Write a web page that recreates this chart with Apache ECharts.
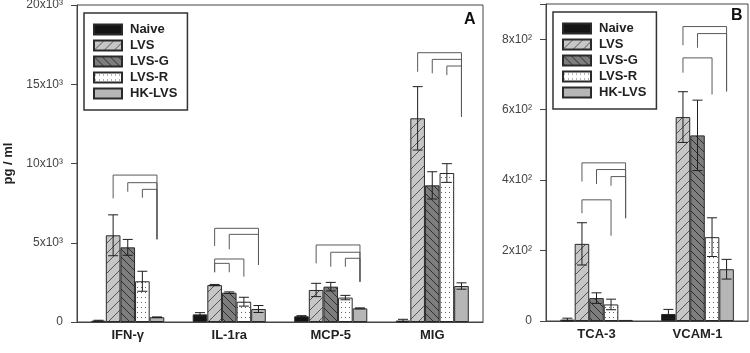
<!DOCTYPE html>
<html>
<head>
<meta charset="utf-8">
<script src="https://cdn.jsdelivr.net/npm/echarts@6/dist/echarts.min.js"></script>
<style>
html, body { margin: 0; padding: 0; background: #fff; }
#chart { width: 750px; height: 353px; }
</style>
</head>
<body>
<div id="chart"></div>
<script>
// groups (series)
var groups = ["Naive", "LVS", "LVS-G", "LVS-R", "HK-LVS"];

// panel A: pg/ml
var catsA = ["IFN-γ", "IL-1ra", "MCP-5", "MIG"];
var naiveA = [80, 480, 360, 90];
var lvsA = [5470, 2330, 2020, 12850];
var lvsGA = [4710, 1850, 2230, 8620];
var lvsRA = [2570, 1280, 1540, 9400];
var hkA = [300, 820, 860, 2270];
var naiveErrA = [30, 110, 40, 80];
var lvsErrA = [1290, 40, 420, 2000];
var lvsGErrA = [500, 50, 270, 860];
var lvsRErrA = [630, 280, 140, 590];
var hkErrA = [20, 220, 30, 200];

// panel B: pg/ml
var catsB = ["TCA-3", "VCAM-1"];
var naiveB = [4, 20];
var lvsB = [219, 579];
var lvsGB = [65, 527];
var lvsRB = [47, 238];
var hkB = [3, 147];
var naiveErrB = [4, 13];
var lvsErrB = [60, 72];
var lvsGErrB = [15, 100];
var lvsRErrB = [15, 55];
var hkErrB = [0, 28];

// significance brackets: [category, from bar, to bar, top, left leg end, right leg end]
var bracketsA = [
  [0, 1, 4, 9270, 7800, 5220],
  [0, 2, 4, 8790, 8220, 5220],
  [0, 3, 4, 8370, 7840, 5220],
  [1, 1, 4, 5910, 4800, 3600],
  [1, 2, 4, 5530, 4590, 3600],
  [1, 1, 3, 3975, 3140, 2860],
  [1, 1, 2, 3700, 3140, 3140],
  [2, 1, 4, 4860, 3700, 2540],
  [2, 2, 4, 4400, 3490, 2540],
  [2, 3, 4, 4020, 3490, 2540],
  [3, 1, 4, 16990, 15790, 12950],
  [3, 2, 4, 16570, 15690, 12950],
  [3, 3, 4, 16150, 15580, 12950]
];
var bracketsB = [
  [0, 1, 4, 449, 396, 292],
  [0, 2, 4, 430, 389, 292],
  [0, 3, 4, 410, 384, 292],
  [0, 1, 3, 344, 306, 242],
  [1, 1, 4, 836, 783, 652],
  [1, 2, 4, 816, 776, 652],
  [1, 1, 3, 747, 705, 643]
];

var FONT = '"Liberation Sans", Arial, sans-serif';
var GAP = 0.28;

function pattern(bg, ink, kind, w, h) {
  var c = document.createElement("canvas");
  c.width = w; c.height = h;
  var g = c.getContext("2d");
  g.fillStyle = bg;
  g.fillRect(0, 0, w, h);
  g.strokeStyle = ink;
  g.fillStyle = ink;
  g.lineWidth = 1;
  g.beginPath();
  if (kind === "/") {
    g.moveTo(-1, h + 1); g.lineTo(w + 1, -1);
    g.moveTo(-1, 1); g.lineTo(1, -1);
    g.moveTo(w - 1, h + 1); g.lineTo(w + 1, h - 1);
    g.stroke();
  } else if (kind === "\\") {
    g.moveTo(-1, -1); g.lineTo(w + 1, h + 1);
    g.moveTo(w - 1, -1); g.lineTo(w + 1, 1);
    g.moveTo(-1, h - 1); g.lineTo(1, h + 1);
    g.stroke();
  } else if (kind === ".") {
    g.fillRect(1, 2, 1, 1);
  }
  return { image: c, repeat: "repeat" };
}

var fills = [
  "#141414",
  pattern("#c6c6c6", "#555", "/", 10, 10),
  pattern("#7e7e7e", "#2e2e2e", "\\", 8, 8),
  pattern("#ffffff", "#666", ".", 4, 5),
  "#b6b6b6"
];

var valsA = [naiveA, lvsA, lvsGA, lvsRA, hkA];
var errsA = [naiveErrA, lvsErrA, lvsGErrA, lvsRErrA, hkErrA];
var valsB = [naiveB, lvsB, lvsGB, lvsRB, hkB];
var errsB = [naiveErrB, lvsErrB, lvsGErrB, lvsRErrB, hkErrB];

function barX(api, c, g) {
  var band = api.size([1, 0])[0];
  var bw = band * (1 - GAP) / 5;
  return api.coord([c, 0])[0] + (g - 2) * bw;
}

function errItem(params, api) {
  var c = api.value(0), g = api.value(1), v = api.value(2), e = api.value(3);
  if (!e) return null;
  var x = barX(api, c, g);
  var yT = api.coord([c, v + e])[1];
  var yB = api.coord([c, Math.max(v - e, 0)])[1];
  var hw = 5;
  var st = { stroke: "#1e1e1e", lineWidth: 1 };
  return {
    type: "group",
    children: [
      { type: "line", shape: { x1: x, y1: yT, x2: x, y2: yB }, style: st },
      { type: "line", shape: { x1: x - hw, y1: yT, x2: x + hw, y2: yT }, style: st },
      { type: "line", shape: { x1: x - hw, y1: yB, x2: x + hw, y2: yB }, style: st }
    ]
  };
}

function bracketItem(params, api) {
  var c = api.value(0);
  var x1 = barX(api, c, api.value(1));
  var x2 = barX(api, c, api.value(2));
  var yTop = api.coord([c, api.value(3)])[1];
  var yL = api.coord([c, api.value(4)])[1];
  var yR = api.coord([c, api.value(5)])[1];
  return {
    type: "polyline",
    shape: { points: [[x1, yL], [x1, yTop], [x2, yTop], [x2, yR]] },
    style: { stroke: "#5a5a5a", lineWidth: 1, fill: null }
  };
}

function errData(vals, errs) {
  var out = [];
  for (var g = 0; g < vals.length; g++) {
    for (var i = 0; i < vals[g].length; i++) {
      out.push([i, g, vals[g][i], errs[g][i]]);
    }
  }
  return out;
}

var series = [];
[[valsA, 0], [valsB, 1]].forEach(function (p) {
  groups.forEach(function (name, g) {
    series.push({
      name: name,
      type: "bar",
      xAxisIndex: p[1],
      yAxisIndex: p[1],
      data: p[0][g],
      barGap: "0%",
      barCategoryGap: GAP * 100 + "%",
      itemStyle: { color: fills[g], borderColor: "#2a2a2a", borderWidth: 1 },
      emphasis: { disabled: true }
    });
  });
});
series.push({
  type: "custom", xAxisIndex: 0, yAxisIndex: 0, z: 5,
  renderItem: errItem, data: errData(valsA, errsA), silent: true
});
series.push({
  type: "custom", xAxisIndex: 1, yAxisIndex: 1, z: 5,
  renderItem: errItem, data: errData(valsB, errsB), silent: true
});
series.push({
  type: "custom", xAxisIndex: 0, yAxisIndex: 0, z: 5,
  renderItem: bracketItem, data: bracketsA, silent: true
});
series.push({
  type: "custom", xAxisIndex: 1, yAxisIndex: 1, z: 5,
  renderItem: bracketItem, data: bracketsB, silent: true
});

function legendAt(left, top) {
  return {
    data: groups,
    left: left,
    top: top,
    orient: "vertical",
    icon: "rect",
    itemWidth: 28,
    itemHeight: 10,
    itemGap: 3,
    padding: [10, 10, 10, 9],
    borderColor: "#333",
    borderWidth: 1.5,
    selectedMode: false,
    textStyle: { fontFamily: FONT, fontWeight: "bold", fontSize: 13, color: "#222", padding: [0, 0, 0, 3] }
  };
}

var xAxisBase = {
  type: "category",
  axisLine: { lineStyle: { color: "#444" } },
  axisTick: { alignWithLabel: true, length: 4, lineStyle: { color: "#444" } },
  axisLabel: { fontFamily: FONT, fontWeight: "bold", fontSize: 13, color: "#222", margin: 7 }
};
var yAxisBase = {
  type: "value",
  min: 0,
  axisLine: { show: true, lineStyle: { color: "#444" } },
  axisTick: { show: true, length: 6, lineStyle: { color: "#444" } },
  splitLine: { show: false },
  axisLabel: { fontFamily: FONT, fontSize: 12, color: "#444", margin: 14 }
};

var option = {
  animation: false,
  backgroundColor: "#fff",
  grid: [
    { left: 77, right: 267, top: 5, bottom: 31, show: true, borderColor: "#444", borderWidth: 1, outerBoundsMode: "none" },
    { left: 546, right: 2, top: 4, bottom: 32, show: true, borderColor: "#444", borderWidth: 1, outerBoundsMode: "none" }
  ],
  legend: [legendAt(84, 13), legendAt(553, 12)],
  xAxis: [
    Object.assign({}, xAxisBase, { gridIndex: 0, data: catsA }),
    Object.assign({}, xAxisBase, { gridIndex: 1, data: catsB })
  ],
  yAxis: [
    Object.assign({}, yAxisBase, {
      gridIndex: 0, max: 20000, interval: 5000,
      name: "pg / ml", nameLocation: "middle", nameGap: 60,
      nameTextStyle: { fontFamily: FONT, fontWeight: "bold", fontSize: 13, color: "#222" },
      axisLabel: Object.assign({}, yAxisBase.axisLabel, {
        formatter: function (v) { return v === 0 ? "0" : (v / 1000) + "x10³"; }
      })
    }),
    Object.assign({}, yAxisBase, {
      gridIndex: 1, max: 900, interval: 200,
      axisLabel: Object.assign({}, yAxisBase.axisLabel, {
        formatter: function (v) {
          if (v === 0) return "0";
          return v % 200 ? "" : (v / 100) + "x10²";
        }
      })
    })
  ],
  graphic: [
    { type: "text", left: 464, top: 12, style: { text: "A", font: "bold 16px " + FONT, fill: "#111" } },
    { type: "text", left: 731, top: 8, style: { text: "B", font: "bold 16px " + FONT, fill: "#111" } }
  ],
  series: series
};

var chart = echarts.init(document.getElementById("chart"), null, { renderer: "canvas" });
chart.setOption(option);
</script>
</body>
</html>
